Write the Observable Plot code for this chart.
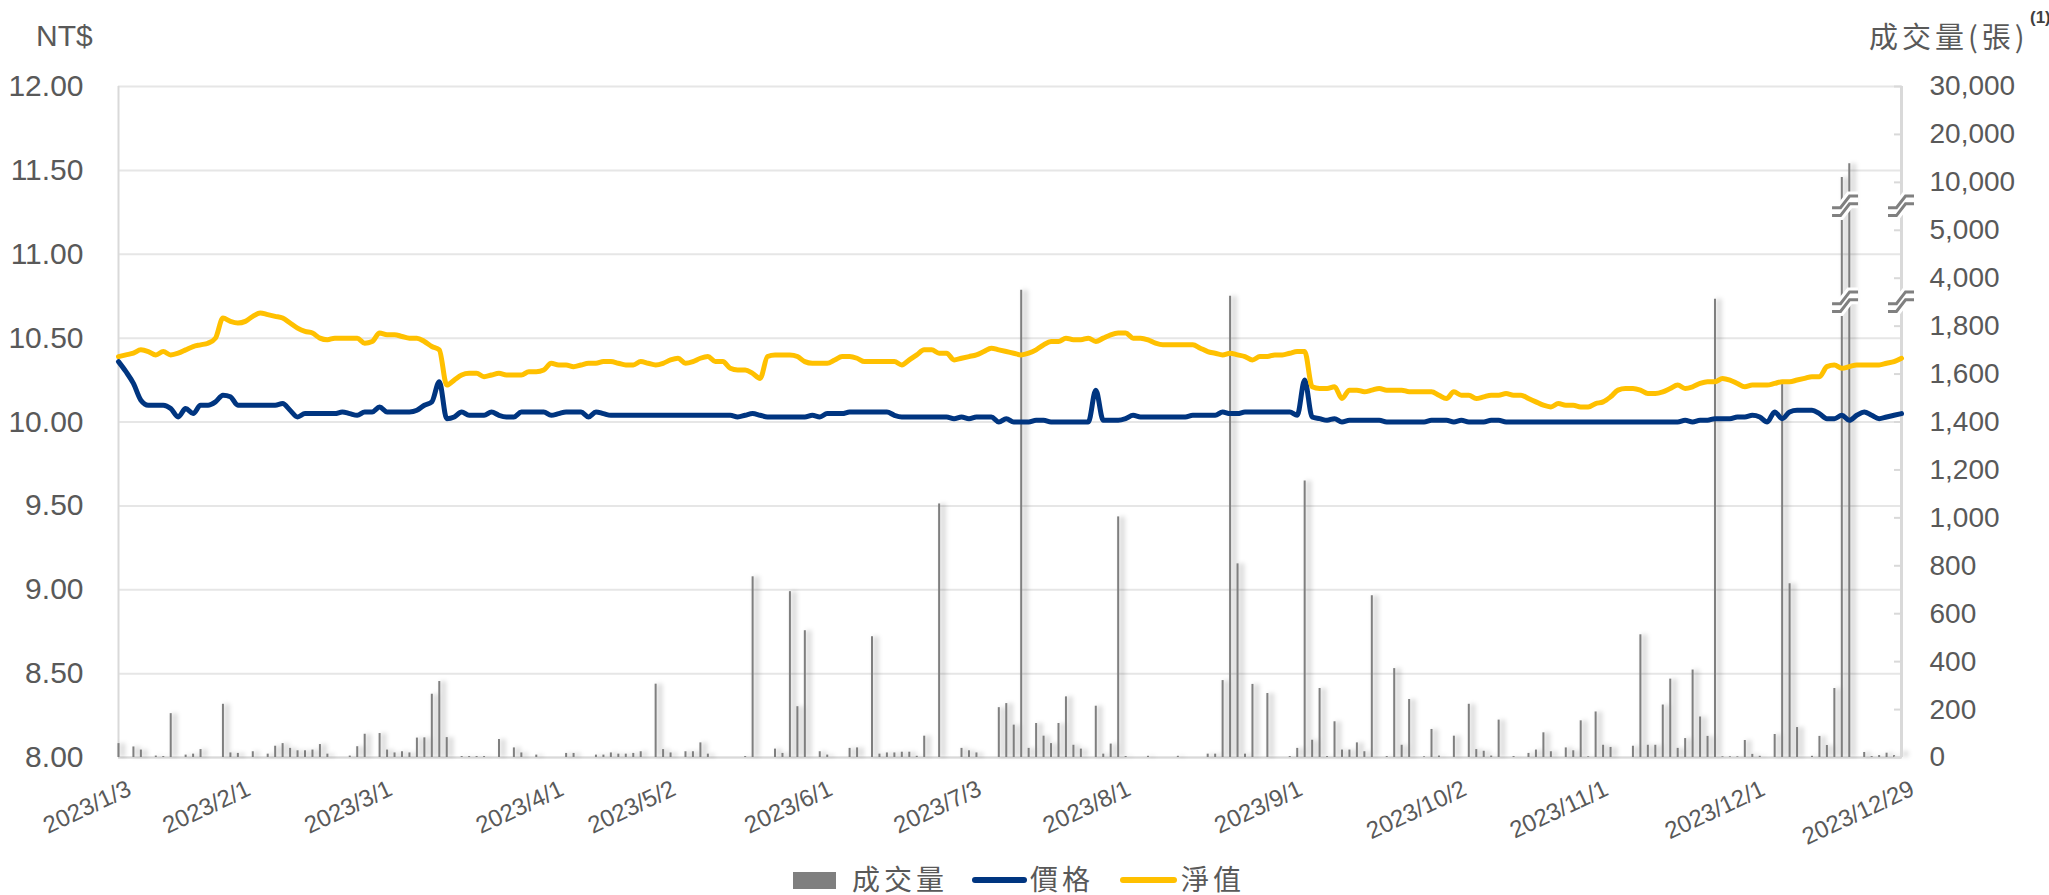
<!DOCTYPE html>
<html><head><meta charset="utf-8">
<script src="https://cdn.jsdelivr.net/npm/d3@7"></script>
<script src="https://cdn.jsdelivr.net/npm/@observablehq/plot@0.6"></script>
<style>
html,body{margin:0;padding:0;background:#fff;}
#wrap{position:relative;width:2049px;height:895px;overflow:hidden;color:#595959;font-family:"Liberation Sans",Arial,sans-serif;}
#wrap svg{position:absolute;left:0;top:0;}
.t{position:absolute;white-space:nowrap;line-height:normal;}
.cjk{font-family:"Noto Sans CJK TC","Noto Sans CJK SC",sans-serif;letter-spacing:4px;}
</style></head>
<body><div id="wrap">
<div class="t" style="left:36px;top:19px;font-size:30px;">NT$</div>
<div class="t cjk" style="left:1869px;top:14px;font-size:29px;">成交量(張)</div>
<div class="t" style="left:2030px;top:8px;font-size:17px;font-weight:bold;color:#404040;">(1)</div>
<div class="t" style="left:793px;top:872px;width:43px;height:17px;background:#7f7f7f;"></div>
<div class="t cjk" style="left:852px;top:858px;font-size:28px;">成交量</div>
<div class="t" style="left:972px;top:877px;width:55px;height:6px;border-radius:3px;background:#003580;"></div>
<div class="t cjk" style="left:1030px;top:858px;font-size:28px;">價格</div>
<div class="t" style="left:1120px;top:877px;width:57px;height:6px;border-radius:3px;background:#FFC000;"></div>
<div class="t cjk" style="left:1181px;top:858px;font-size:28px;">淨值</div>
</div>
<script>
// ---- data (one value per trading day, 2023/1/3 .. 2023/12/29) ----
const price = [
10.36,10.30,10.23,10.13,10.10,10.10,10.10,10.08,10.03,10.08,
10.05,10.10,10.10,10.12,10.16,10.15,10.10,10.10,10.10,10.10,
10.10,10.10,10.11,10.07,10.03,10.05,10.05,10.05,10.05,10.05,
10.06,10.05,10.04,10.06,10.06,10.09,10.06,10.06,10.06,10.06,
10.07,10.10,10.12,10.24,10.02,10.03,10.06,10.04,10.04,10.04,
10.06,10.04,10.03,10.03,10.06,10.06,10.06,10.06,10.04,10.05,
10.06,10.06,10.06,10.03,10.06,10.05,10.04,10.04,10.04,10.04,
10.04,10.04,10.04,10.04,10.04,10.04,10.04,10.04,10.04,10.04,
10.04,10.04,10.04,10.03,10.04,10.05,10.04,10.03,10.03,10.03,
10.03,10.03,10.03,10.04,10.03,10.05,10.05,10.05,10.06,10.06,
10.06,10.06,10.06,10.06,10.04,10.03,10.03,10.03,10.03,10.03,
10.03,10.03,10.02,10.03,10.02,10.03,10.03,10.03,10.00,10.02,
10.00,10.00,10.00,10.01,10.01,10.00,10.00,10.00,10.00,10.00,
10.00,10.19,10.01,10.01,10.01,10.02,10.04,10.03,10.03,10.03,
10.03,10.03,10.03,10.03,10.04,10.04,10.04,10.04,10.06,10.05,
10.05,10.06,10.06,10.06,10.06,10.06,10.06,10.06,10.04,10.25,
10.03,10.02,10.01,10.02,10.00,10.01,10.01,10.01,10.01,10.01,
10.00,10.00,10.00,10.00,10.00,10.00,10.01,10.01,10.01,10.00,
10.01,10.00,10.00,10.00,10.01,10.01,10.00,10.00,10.00,10.00,
10.00,10.00,10.00,10.00,10.00,10.00,10.00,10.00,10.00,10.00,
10.00,10.00,10.00,10.00,10.00,10.00,10.00,10.00,10.00,10.00,
10.01,10.00,10.01,10.01,10.02,10.02,10.02,10.03,10.03,10.04,
10.03,10.00,10.06,10.02,10.06,10.07,10.07,10.07,10.05,10.02,
10.02,10.04,10.01,10.04,10.06,10.04,10.02,10.03,10.04,10.05];

const nav = [
10.39,10.40,10.41,10.43,10.42,10.40,10.42,10.40,10.41,10.43,
10.45,10.46,10.47,10.50,10.62,10.60,10.59,10.60,10.63,10.65,
10.64,10.63,10.62,10.59,10.56,10.54,10.53,10.50,10.49,10.50,
10.50,10.50,10.50,10.47,10.48,10.53,10.52,10.52,10.51,10.50,
10.50,10.48,10.45,10.43,10.22,10.25,10.28,10.29,10.29,10.27,
10.28,10.29,10.28,10.28,10.28,10.30,10.30,10.31,10.35,10.34,
10.34,10.33,10.34,10.35,10.35,10.36,10.36,10.35,10.34,10.34,
10.36,10.35,10.34,10.35,10.37,10.38,10.35,10.36,10.38,10.39,
10.36,10.36,10.32,10.31,10.31,10.29,10.26,10.39,10.40,10.40,
10.40,10.39,10.36,10.35,10.35,10.35,10.37,10.39,10.39,10.38,
10.36,10.36,10.36,10.36,10.36,10.34,10.37,10.40,10.43,10.43,
10.41,10.41,10.37,10.38,10.39,10.40,10.42,10.44,10.43,10.42,
10.41,10.40,10.41,10.43,10.46,10.48,10.48,10.50,10.49,10.49,
10.50,10.48,10.50,10.52,10.53,10.53,10.50,10.50,10.49,10.47,
10.46,10.46,10.46,10.46,10.46,10.44,10.42,10.41,10.40,10.41,
10.40,10.39,10.37,10.39,10.39,10.40,10.40,10.41,10.42,10.42,
10.21,10.20,10.20,10.21,10.14,10.19,10.19,10.18,10.19,10.20,
10.19,10.19,10.19,10.18,10.18,10.18,10.18,10.16,10.14,10.18,
10.16,10.16,10.14,10.15,10.16,10.16,10.17,10.16,10.16,10.14,
10.12,10.10,10.09,10.11,10.10,10.10,10.09,10.09,10.11,10.12,
10.15,10.19,10.20,10.20,10.19,10.17,10.17,10.18,10.20,10.22,
10.20,10.21,10.23,10.24,10.24,10.26,10.25,10.23,10.21,10.22,
10.22,10.22,10.23,10.24,10.24,10.25,10.26,10.27,10.27,10.33,
10.34,10.32,10.33,10.34,10.34,10.34,10.34,10.35,10.36,10.38];

const volume = [
58,0,44,31,0,6,4,183,0,10,
14,33,0,0,222,19,17,0,24,0,
14,47,58,38,28,28,31,54,14,0,
0,6,45,97,0,100,31,19,24,19,
81,82,264,317,83,0,4,4,4,4,
0,75,0,40,19,0,10,0,0,0,
17,17,0,0,10,10,19,14,14,17,
24,0,306,33,19,0,24,24,61,14,
0,0,0,0,4,754,0,0,35,17,
692,212,529,0,24,10,0,0,38,40,
0,504,14,19,19,22,22,5,89,0,
1058,0,0,38,28,19,0,0,208,225,
135,3450,38,142,89,58,142,253,51,35,
0,214,14,56,1004,4,0,0,5,0,
0,0,5,0,0,0,14,14,321,3175,
808,14,305,0,267,0,0,4,38,1154,
72,288,4,149,31,31,61,24,675,0,
4,371,51,242,0,3,117,6,0,89,
0,222,33,26,6,156,0,4,0,17,
31,103,24,0,40,28,153,3,190,51,
42,0,0,47,512,51,51,219,327,38,
79,365,169,88,3040,3,3,3,71,13,
5,0,96,1564,725,125,0,5,88,50,
288,11000,13900,0,21,4,8,18,8,26];

// x-axis labels and the trading-day position where each sits
const tickLabels = ["2023/1/3","2023/2/1","2023/3/1","2023/4/1","2023/5/2","2023/6/1","2023/7/3","2023/8/1","2023/9/1","2023/10/2","2023/11/1","2023/12/1","2023/12/29"];
const tickIndex  = [0,16,35,58,73,94,114,134,157,179,198,219,239];
const priceTicks = [8,8.5,9,9.5,10,10.5,11,11.5,12];
const volTicks = [0,200,400,600,800,1000,1200,1400,1600,1800,4000,5000,10000,20000,30000];
const volDomain = [0,1800,4000,5000,10000,20000,30000]; // broken (piecewise) axis
const breakVols = [2900,7500];

// ---- layout ----
const W = 2049, H = 850;
const yTop = 86, yBottom = 757, xLeft = 118, xRight = 1901;
const N = price.length;
const rows = price.map((p, i) => ({i, price: p, nav: nav[i], vol: volume[i]}));
const labelOf = new Map(tickIndex.map((t, k) => [t, tickLabels[k]]));
const slot = (yBottom - yTop) / (volTicks.length - 1);
const volRange = volDomain.map(v => yBottom - volTicks.indexOf(v) * slot);
const common = {
  width: W, height: H, marginTop: yTop, marginBottom: H - yBottom, marginLeft: xLeft, marginRight: W - xRight,
  style: {fontFamily: "'Liberation Sans', Arial, sans-serif", color: "#595959", background: "transparent", overflow: "visible"}
};
const bigBars = rows.filter(d => d.vol > volDomain[2]).map(d => d.i);
const breakX = d3.mean(bigBars);
const breakPts = breakVols.flatMap(v => [{x: breakX, v, dx: 0}, {x: N - 1, v, dx: 5}]);
const breakSymbol = {draw(ctx, size) {
  const r = Math.sqrt(size / Math.PI);
  for (const o of [-0.3 * r, 0.3 * r]) {
    ctx.moveTo(-r, o + 0.45 * r); ctx.lineTo(-0.35 * r, o + 0.45 * r);
    ctx.lineTo(0.35 * r, o - 0.45 * r); ctx.lineTo(r, o - 0.45 * r);
  }
}};

// layer 1: grid, price axis, date axis
const base = Plot.plot({...common,
  x: {domain: [0, N - 1], label: null},
  y: {domain: [8, 12], label: null},
  marks: [
    Plot.gridY(priceTicks, {stroke: "#e6e6e6", strokeOpacity: 1, strokeWidth: 2}),
    Plot.ruleX([0], {stroke: "#d9d9d9", strokeWidth: 2}),
    Plot.ruleY([8], {stroke: "#d9d9d9", strokeWidth: 2}),
    Plot.axisY(priceTicks, {anchor: "left", tickSize: 0, tickPadding: 35, fontSize: 30, tickFormat: d3.format(".2f")}),
    Plot.axisX(tickIndex, {anchor: "bottom", tickSize: 0, tickPadding: 30, tickRotate: -25, fontSize: 24, dx: 11, tickFormat: d => labelOf.get(d)})
  ]});

// layer 2: volume bars and right (broken) axis
const bars = Plot.plot({...common,
  x: {domain: [0, N - 1], axis: null},
  y: {type: "linear", domain: volDomain, range: volRange, label: null},
  marks: [
    Plot.ruleX(rows, {x: "i", y1: 0, y2: "vol", stroke: "#000", strokeOpacity: 0.13, strokeWidth: 6, dx: 4, imageFilter: "blur(2px)"}),
    Plot.ruleX(rows, {x: "i", y1: 0, y2: "vol", stroke: "#7f7f7f", strokeWidth: 2}),
    Plot.ruleX([N - 1], {stroke: "#d9d9d9", strokeWidth: 3}),
    Plot.axisY(volTicks, {anchor: "right", tickSize: 8, dx: -8, stroke: "#d9d9d9", strokeWidth: 2, fill: "none"}),
    Plot.axisY(volTicks, {anchor: "right", tickSize: 0, tickPadding: 28, fontSize: 28, tickFormat: d3.format(",")}),
    Plot.dot(breakPts, {x: "x", y: "v", dx: "dx", r: 13, symbol: breakSymbol, stroke: "#fff", strokeWidth: 9, fill: "none"}),
    Plot.dot(breakPts, {x: "x", y: "v", dx: "dx", r: 13, symbol: breakSymbol, stroke: "#808080", strokeWidth: 3, fill: "none"})
  ]});

// layer 3: price and NAV lines
const lines = Plot.plot({...common,
  x: {domain: [0, N - 1], axis: null},
  y: {domain: [8, 12], axis: null},
  marks: [
    Plot.line(rows, {x: "i", y: "price", stroke: "#003580", strokeWidth: 5, curve: "monotone-x"}),
    Plot.line(rows, {x: "i", y: "nav", stroke: "#FFC000", strokeWidth: 5, curve: "monotone-x"})
  ]});

const wrap = document.getElementById("wrap");
wrap.prepend(lines); wrap.prepend(bars); wrap.prepend(base);
</script>
</body></html>
